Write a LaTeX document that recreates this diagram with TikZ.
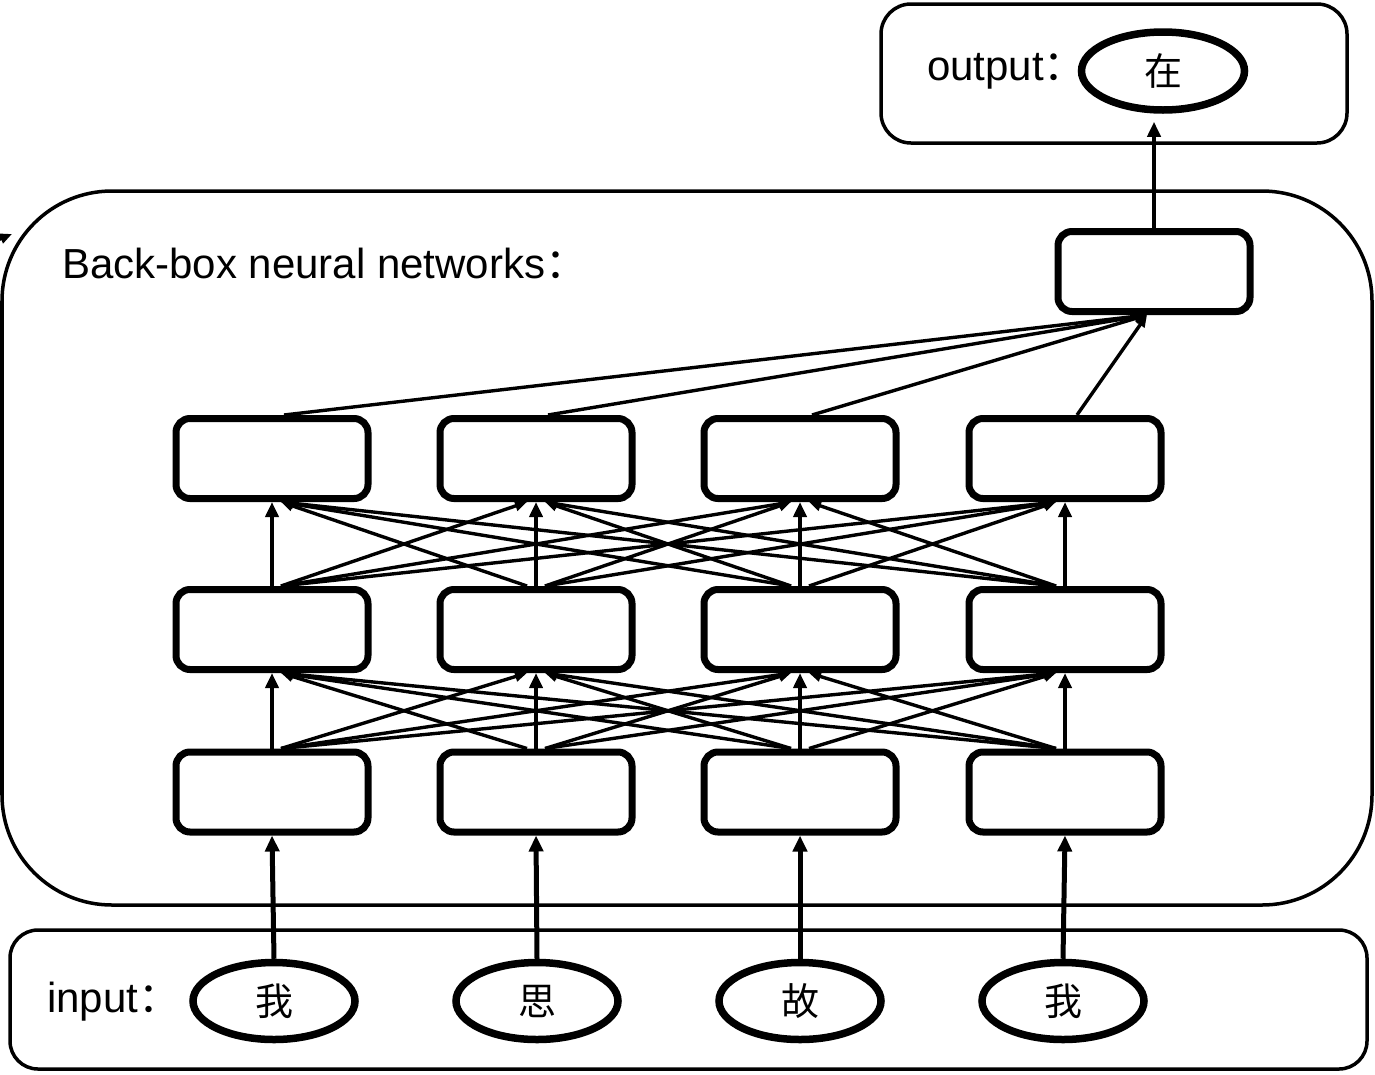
\documentclass[tikz,border=0pt]{standalone}
\usepackage{fontspec}
\setmainfont{Liberation Sans}
\newfontfamily\cjk{Noto Sans CJK SC}
\usetikzlibrary{arrows.meta,shapes.geometric}
\begin{document}
\begin{tikzpicture}[x=1pt,y=-1pt,
  layerbox/.style={draw, line width=7pt, rounded corners=14pt, minimum width=192pt, minimum height=80pt, inner sep=0pt},
  word/.style={draw, ellipse, line width=7.5pt, minimum width=162pt, minimum height=77pt, inner sep=0pt, font=\cjk\fontsize{38}{40}\selectfont},
  label/.style={anchor=west, inner sep=0pt, font=\fontsize{42}{48}\selectfont},
  frame/.style={draw, line width=3.5pt},
  inarrow/.style={line width=5pt, -{Triangle[length=16pt,width=14pt]}},
  uparrow/.style={line width=4pt, -{Triangle[length=15pt,width=13pt]}},
  crossarrow/.style={line width=3.4pt, -{Triangle[length=12pt,width=10pt]}},
]
\useasboundingbox (0,0) rectangle (1375,1074);

% frames
\draw[frame, rounded corners=28pt] (10,930) rectangle (1367,1069);
\draw[frame, rounded corners=110pt] (2,191) rectangle (1372,905);
\draw[frame, rounded corners=30pt] (881,4) rectangle (1347,143);

% labels
\node[label] (tin) at (47,1002) {input{\cjk ：}};
\node[label] (tbb) at (62,263) {Back-box neural networks{\cjk ：}};
\node[label] (tout) at (927,71) {output{\cjk ：}};

% input words
\node[word] (in1) at (274,1001) {我};
\node[word] (in2) at (537,1001) {思};
\node[word] (in3) at (800,1001) {故};
\node[word] (in4) at (1063,1001) {我};

% output word
\node[word, minimum width=163pt, minimum height=78pt] (out) at (1163,71) {在};

% layers
\foreach \i/\x in {1/272,2/536,3/800,4/1065}{
  \node[layerbox] (a\i) at (\x,792) {};
  \node[layerbox] (b\i) at (\x,629.5) {};
  \node[layerbox] (c\i) at (\x,458.5) {};
}
\node[layerbox] (top) at (1154,271.5) {};

% input arrows
\foreach \i in {1,2,3,4}{
  \draw[inarrow] (in\i.north) -- (a\i.south);
}

% layer to layer
\foreach \lo/\hi in {a/b,b/c}{
  \foreach \i in {1,2,3,4}{
    \draw[uparrow] (\lo\i.north) -- (\hi\i.south);
    \foreach \j in {1,2,3,4}{
      \ifnum\i=\j\else
        \pgfmathsetmacro{\sd}{(\j>\i) ? 9 : -9}
        \pgfmathsetmacro{\ed}{(\j>\i) ? -9 : 9}
        \draw[crossarrow] ([xshift=\sd pt]\lo\i.north) -- ([xshift=\ed pt]\hi\j.south);
      \fi
    }
  }
}

% to top box
\foreach \i in {1,2,3,4}{
  \draw[crossarrow] ([xshift=12pt]c\i.north) -- ([xshift=-7pt]top.south);
}

% top box to output
\draw[uparrow, line width=4.5pt, shorten >=8pt] (top.north) -- (top.north |- out.south);

% fragment of arrow at left edge
\coordinate (fa) at (-12,244);
\coordinate (fb) at (12,234);
\draw[crossarrow] (fa) -- (fb);
\end{tikzpicture}
\end{document}
